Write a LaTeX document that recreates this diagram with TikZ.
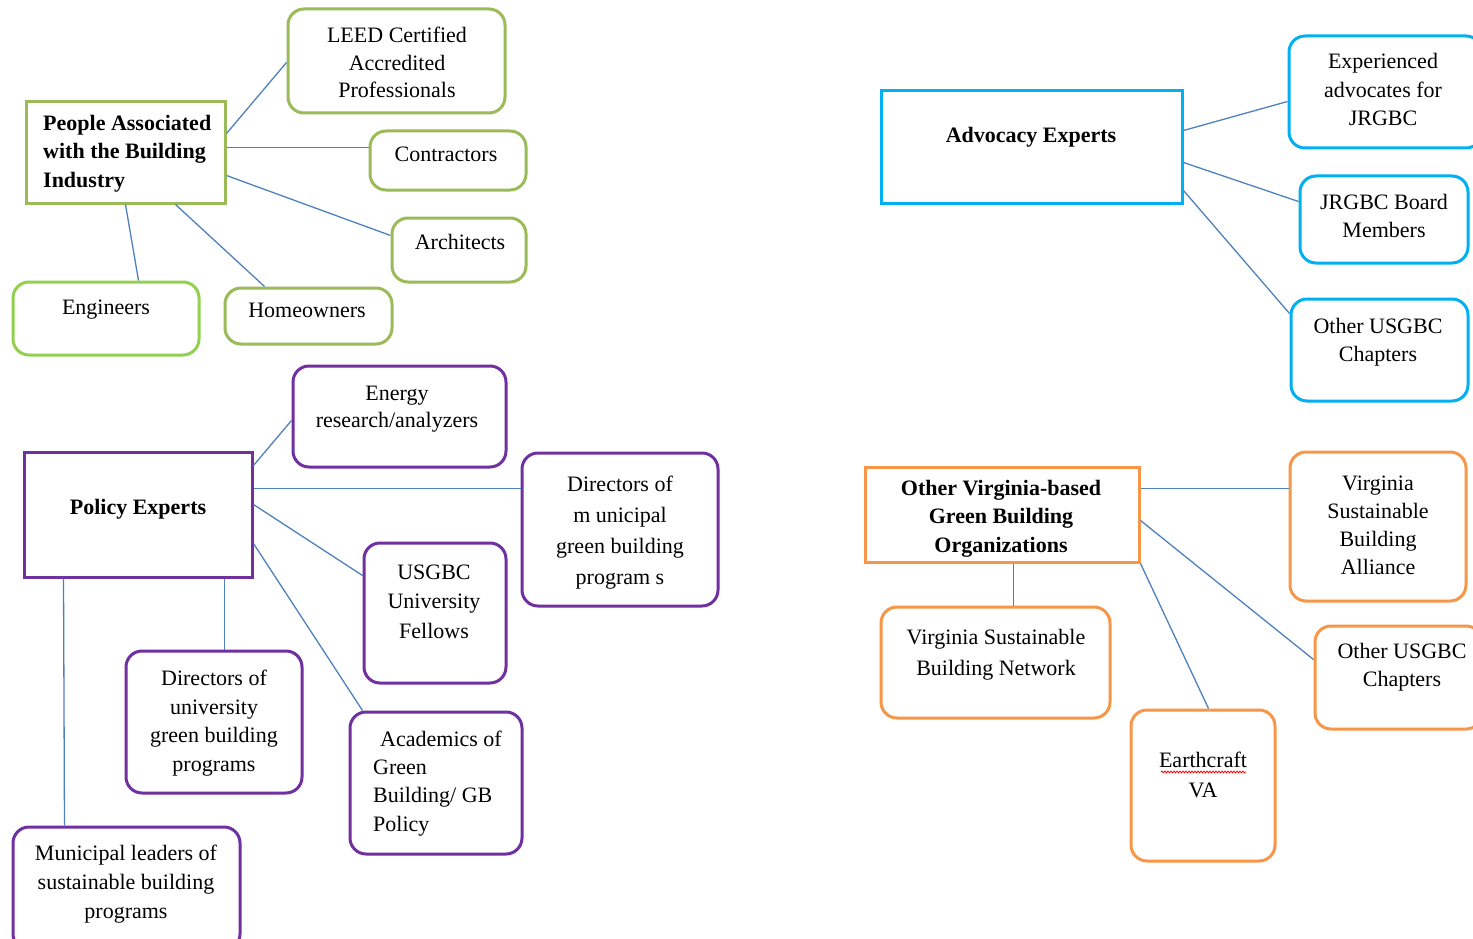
\documentclass[tikz,border=0pt]{standalone}
\usepackage{fontspec}
\setmainfont{Liberation Serif}
\usetikzlibrary{decorations.pathmorphing}
\definecolor{olv}{HTML}{9BBB59}
\definecolor{grn}{HTML}{92D050}
\definecolor{prp}{HTML}{7030A0}
\definecolor{cyn}{HTML}{00B0F0}
\definecolor{org}{HTML}{F79646}
\definecolor{lineblue}{HTML}{4F81BD}
\tikzset{
  txt/.style={font=\fontsize{22}{28}\selectfont, align=center, anchor=base, inner sep=0pt, text=black},
  btxt/.style={txt, font=\fontsize{22}{28.5}\selectfont\bfseries},
  rbox/.style={draw, rounded corners=16pt, line width=3pt, inner sep=0pt},
  sbox/.style={draw, line width=3pt, inner sep=0pt},
  conn/.style={draw=lineblue, line width=1.3pt}
}
\newcommand\boxat[6]{%
  \pgfmathsetmacro\bxw{#5-#3}\pgfmathsetmacro\bxh{#6-#4}%
  \pgfmathsetmacro\bxx{(#3+#5)/2}\pgfmathsetmacro\bxy{(#4+#6)/2}%
  \node[#1, minimum width=\bxw pt, minimum height=\bxh pt] (#2) at (\bxx,\bxy) {};}
\begin{document}
\begin{tikzpicture}[x=1pt,y=-1pt]
\useasboundingbox (0,0) rectangle (1473,939);
\clip (0,0) rectangle (1473,939);
\fill[white] (0,0) rectangle (1473,939);
% (text nodes are placed at the baseline of their LAST line)
% ---------- green group
\boxat{sbox,draw=olv}{P}{26}{102}{225}{203}
\boxat{rbox,draw=olv}{LEED}{288}{9}{505}{113}
\boxat{rbox,draw=olv}{Contr}{370}{131}{526}{190}
\boxat{rbox,draw=olv}{Arch}{392}{218}{526}{282}
\boxat{rbox,draw=grn}{Eng}{13}{282}{199}{355}
\boxat{rbox,draw=olv}{Home}{225}{288}{392}{344}
\node[btxt, align=left, anchor=base west] (tP) at (43,187) {People Associated\\with the Building\\Industry};
\node[txt, font=\fontsize{22}{27.5}\selectfont] (tLEED) at (397,98) {LEED Certified\\Accredited\\Professionals};
\node[txt] (tContr) at (446,161) {Contractors};
\node[txt] (tArch) at (460,249) {Architects};
\node[txt] (tEng) at (106,314) {Engineers};
\node[txt] (tHome) at (307,317) {Homeowners};
\draw[conn] ([yshift=-33pt]P.north east) -- ([yshift=-55pt]LEED.north west);
\draw[conn] ([yshift=-47pt]P.north east) -- ([yshift=-18pt]Contr.north west);
\draw[conn] ([yshift=-75pt]P.north east) -- ([yshift=-19pt]Arch.north west);
\draw[conn] ([xshift=101pt]P.south west) -- ([xshift=127pt]Eng.north west);
\draw[conn] ([xshift=151pt]P.south west) -- ([xshift=41pt]Home.north west);
% ---------- purple group
\boxat{sbox,draw=prp}{Pol}{24}{452}{252}{577}
\boxat{rbox,draw=prp}{Energy}{293}{366}{506}{467}
\boxat{rbox,draw=prp}{DirMun}{522}{453}{718}{606}
\boxat{rbox,draw=prp}{USU}{364}{543}{506}{683}
\boxat{rbox,draw=prp}{DirUni}{126}{651}{302}{793}
\boxat{rbox,draw=prp}{Acad}{350}{712}{522}{854}
\boxat{rbox,draw=prp}{Muni}{13}{827}{240}{950}
\node[btxt] (tPol) at (138,514) {Policy Experts};
\node[txt, font=\fontsize{22}{27}\selectfont] (tEnergy) at (397,427) {Energy\\research/analyzers};
\node[txt, font=\fontsize{22}{31}\selectfont] (tDirMun) at (620,584) {Directors of\\m unicipal\\green building\\program s};
\node[txt, font=\fontsize{22}{29.5}\selectfont] (tUSU) at (434,638) {USGBC\\University\\Fellows};
\node[txt, font=\fontsize{22}{28.5}\selectfont] (tDirUni) at (214,771) {Directors of\\university\\green building\\programs};
\node[txt, align=left, anchor=base west, font=\fontsize{22}{28.3}\selectfont] (tAcad) at (373,831) {\hspace{7pt}Academics of\\Green\\Building/ GB\\Policy};
\node[txt, font=\fontsize{22}{29}\selectfont] (tMuni) at (126,918) {Municipal leaders of\\sustainable building\\programs};
\draw[conn] ([yshift=-15pt]Pol.north east) -- ([yshift=-56pt]Energy.north west);
\draw[conn] ([yshift=-38pt]Pol.north east) -- ([yshift=-37pt]DirMun.north west);
\draw[conn] ([yshift=-54pt]Pol.north east) -- ([yshift=-34pt]USU.north west);
\draw[conn] ([yshift=-93pt]Pol.north east) -- ([xshift=14pt]Acad.north west);
\draw[conn] ([xshift=202pt]Pol.south west) -- ([xshift=100pt]DirUni.north west);
\draw[conn] ([xshift=41pt]Pol.south west) -- ([xshift=53pt]Muni.north west);
% ---------- blue group
\boxat{sbox,draw=cyn}{Adv}{881}{91}{1182}{203}
\boxat{rbox,draw=cyn}{Exp}{1289}{36}{1482}{148}
\boxat{rbox,draw=cyn}{JB}{1300}{176}{1468}{263}
\boxat{rbox,draw=cyn}{OUa}{1291}{299}{1468}{401}
\node[btxt] (tAdv) at (1031,143) {Advocacy Experts};
\node[txt, font=\fontsize{22}{28.5}\selectfont] (tExp) at (1383,126) {Experienced\\advocates for\\JRGBC};
\node[txt] (tJB) at (1384,237) {JRGBC Board\\Members};
\node[txt] (tOUa) at (1378,361) {Other USGBC\\Chapters};
\draw[conn] ([yshift=-41pt]Adv.north east) -- ([yshift=-67pt]Exp.north west);
\draw[conn] ([yshift=-73pt]Adv.north east) -- ([yshift=-27pt]JB.north west);
\draw[conn] ([yshift=-101pt]Adv.north east) -- ([yshift=-16pt]OUa.north west);
% ---------- orange group
\boxat{sbox,draw=org}{OVA}{865}{467}{1139}{562}
\boxat{rbox,draw=org}{VSBA}{1290}{452}{1466}{601}
\boxat{rbox,draw=org}{VSBN}{881}{607}{1110}{718}
\boxat{rbox,draw=org}{OUb}{1315}{626}{1482}{729}
\boxat{rbox,draw=org}{Earth}{1131}{710}{1275}{861}
\node[btxt] (tOVA) at (1001,552) {Other Virginia-based\\Green Building\\Organizations};
\node[txt] (tVSBA) at (1378,574) {Virginia\\Sustainable\\Building\\Alliance};
\node[txt, font=\fontsize{22}{31}\selectfont] (tVSBN) at (996,675) {Virginia Sustainable\\Building Network};
\node[txt] (tOUb) at (1402,686) {Other USGBC\\Chapters};
\node[txt, font=\fontsize{22}{30}\selectfont] (tEarth) at (1203,797) {Earthcraft\\VA};
\draw[red, line width=0.8pt, decorate, decoration={snake, amplitude=0.9pt, segment length=3pt}] (1161,772) -- (1246,772);
\draw[conn] ([yshift=-23pt]OVA.north east) -- ([yshift=-38pt]VSBA.north west);
\draw[conn] ([yshift=-55pt]OVA.north east) -- ([yshift=-35pt]OUb.north west);
\draw[conn] (OVA.south east) -- ([xshift=79pt]Earth.north west);
\draw[conn] ([xshift=150pt]OVA.south west) -- ([xshift=134pt]VSBN.north west);
\end{tikzpicture}
\end{document}
